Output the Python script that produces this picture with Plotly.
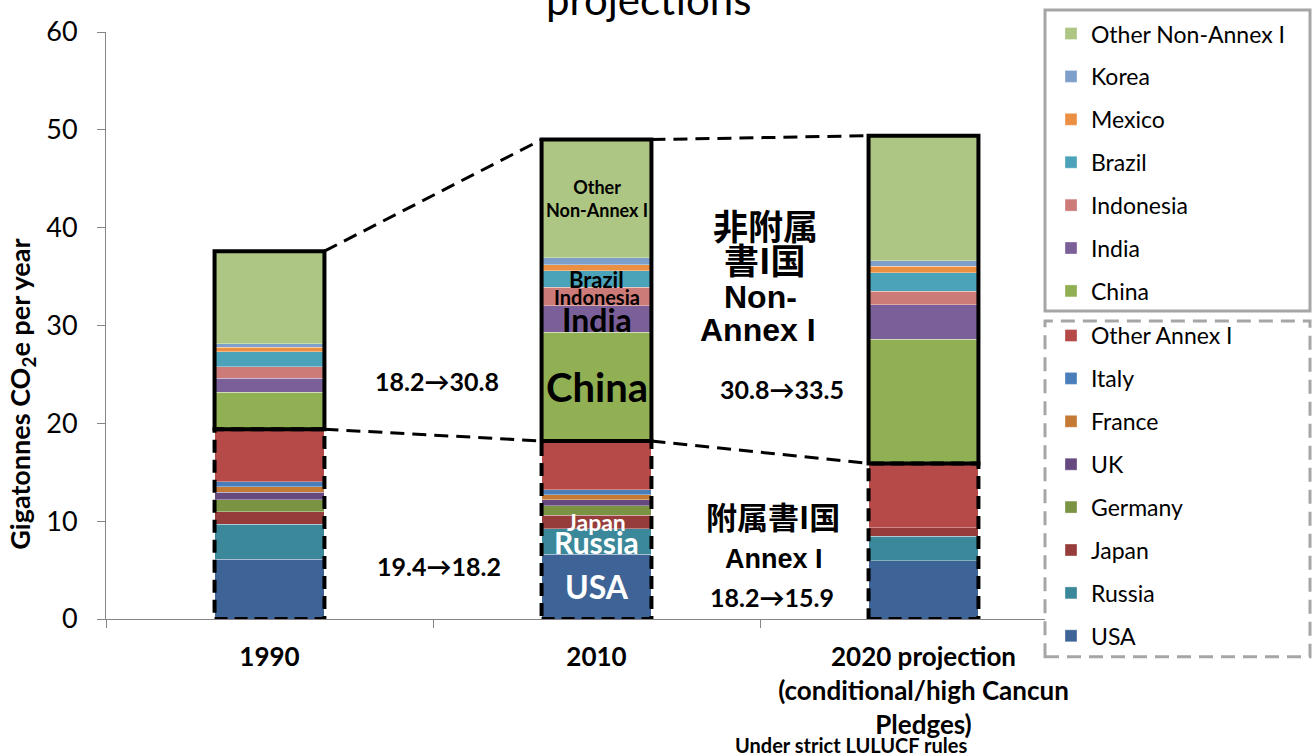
import plotly.graph_objects as go

# ---- data (Gt CO2e per year) ----
periods = ["1990", "2010", "2020 projection<br>(conditional/high Cancun<br>Pledges)"]

# Annex I, stacked from the bottom
usa = [6.1, 6.6, 5.95]
russia = [3.6, 2.6, 2.5]
japan = [1.25, 1.4, 0.9]
germany = [1.25, 1.0, 0.0]
uk = [0.75, 0.6, 0.0]
france = [0.55, 0.5, 0.0]
italy = [0.55, 0.5, 0.0]
other_annex = [5.35, 5.0, 6.55]

# Non-Annex I, stacked on top
china = [3.8, 11.1, 12.7]
india = [1.4, 2.7, 3.5]
indonesia = [1.2, 1.9, 1.4]
brazil = [1.5, 1.7, 1.9]
mexico = [0.5, 0.6, 0.65]
korea = [0.35, 0.7, 0.55]
other_non_annex = [9.45, 12.1, 12.8]

annex_series = [
    ("USA", usa, "#3E6497"),
    ("Russia", russia, "#3A8899"),
    ("Japan", japan, "#963D3B"),
    ("Germany", germany, "#7B9443"),
    ("UK", uk, "#65497F"),
    ("France", france, "#C47A35"),
    ("Italy", italy, "#4A7EBB"),
    ("Other Annex I", other_annex, "#B54A48"),
]
non_annex_series = [
    ("China", china, "#91AF53"),
    ("India", india, "#7A5F98"),
    ("Indonesia", indonesia, "#CC7B79"),
    ("Brazil", brazil, "#4BA3BA"),
    ("Mexico", mexico, "#EB8F43"),
    ("Korea", korea, "#7F9FCB"),
    ("Other Non-Annex I", other_non_annex, "#AEC683"),
]

FONT = "Lato"
ARIAL = "Liberation Sans"
JP_FONT = "Noto Sans CJK JP"
BAR_W = 0.336

# pixel helpers for layout furniture (plot area 106..1045 x 30..619)
PL, PR, PT, PB = 106, 1045, 30, 619


def px_x(px):
    return (px - PL) / (PR - PL)


def px_y(py):
    return (PB - py) / (PB - PT)


fig = go.Figure()

rank = 1000
for group, legend_id in ((annex_series, "legend2"), (non_annex_series, "legend")):
    for name, vals, col in group:
        fig.add_trace(go.Bar(
            x=periods, y=vals, name=name, marker_color=col,
            marker_line=dict(color="rgba(255,255,255,0.35)",
                             width=[1 if v > 0 else 0 for v in vals]),
            legend=legend_id, legendgroup=name, legendrank=rank,
        ))
        rank -= 1

n = len(periods)
annex_tot = [round(sum(s[1][i] for s in annex_series), 1) for i in range(n)]
non_annex_tot = [round(sum(s[1][i] for s in non_annex_series), 1) for i in range(n)]
grand_tot = [round(annex_tot[i] + non_annex_tot[i], 1) for i in range(n)]

shapes = []
half = BAR_W / 2
for i in range(n):
    # dashed outline around the Annex I block
    shapes.append(dict(type="rect", xref="x", yref="y", x0=i - half, x1=i + half,
                       y0=0, y1=annex_tot[i],
                       line=dict(color="black", width=4, dash="13px,7px")))
    # solid outline around the Non-Annex I block
    shapes.append(dict(type="rect", xref="x", yref="y", x0=i - half, x1=i + half,
                       y0=annex_tot[i], y1=grand_tot[i],
                       line=dict(color="black", width=4)))
# dashed connectors between consecutive bars
for i in range(n - 1):
    for a, b in ((grand_tot[i], grand_tot[i + 1]), (annex_tot[i], annex_tot[i + 1])):
        shapes.append(dict(type="line", xref="x", yref="y",
                           x0=i + half, x1=i + 1 - half, y0=a, y1=b,
                           line=dict(color="black", width=3, dash="14px,8px")))

# legend frames
shapes.append(dict(type="rect", xref="paper", yref="paper",
                   x0=px_x(1045), x1=px_x(1310), y0=px_y(310), y1=px_y(8),
                   line=dict(color="#A6A6A6", width=3), fillcolor="rgba(0,0,0,0)"))
shapes.append(dict(type="rect", xref="paper", yref="paper",
                   x0=px_x(1045), x1=px_x(1310), y0=px_y(657), y1=px_y(320),
                   line=dict(color="#A6A6A6", width=3, dash="14px,8px"),
                   fillcolor="rgba(0,0,0,0)"))

annotations = []


def seg_mid(series, key, i, base=0.0):
    acc = base
    for nm, vals, _ in series:
        if nm == key:
            return acc + vals[i] / 2
        acc += vals[i]


def bar_label(i, y, text, size, color="black"):
    annotations.append(dict(x=i, y=y, xref="x", yref="y", text=text, showarrow=False,
                            font=dict(family=FONT, size=size, color=color),
                            xanchor="center", yanchor="middle"))


def free_text(px, py, text, size, font=FONT, color="black", angle=0):
    annotations.append(dict(x=px_x(px), y=px_y(py), xref="paper", yref="paper",
                            text=text, showarrow=False, textangle=angle,
                            font=dict(family=font, size=size, color=color),
                            xanchor="center", yanchor="middle"))


# labels inside the 2010 bar
i = 1
bar_label(i, seg_mid(non_annex_series, "Other Non-Annex I", i, annex_tot[i]),
          "<b>Other<br>Non-Annex I</b>", 18)
bar_label(i, seg_mid(non_annex_series, "Brazil", i, annex_tot[i]), "<b>Brazil</b>", 22)
bar_label(i, seg_mid(non_annex_series, "Indonesia", i, annex_tot[i]), "<b>Indonesia</b>", 20)
bar_label(i, seg_mid(non_annex_series, "India", i, annex_tot[i]), "<b>India</b>", 32)
bar_label(i, seg_mid(non_annex_series, "China", i, annex_tot[i]), "<b>China</b>", 40)
bar_label(i, seg_mid(annex_series, "Japan", i), "<b>Japan</b>", 23, "white")
bar_label(i, seg_mid(annex_series, "Russia", i), "<b>Russia</b>", 30, "white")
bar_label(i, seg_mid(annex_series, "USA", i), "<b>USA</b>", 32, "white")

# change annotations between bars
free_text(437, 380, f"<b>{non_annex_tot[0]:.1f}→{non_annex_tot[1]:.1f}</b>", 25)
free_text(439, 566, f"<b>{annex_tot[0]:.1f}→{annex_tot[1]:.1f}</b>", 25)
free_text(782, 388, f"<b>{non_annex_tot[1]:.1f}→{non_annex_tot[2]:.1f}</b>", 25)
free_text(772, 597, f"<b>{annex_tot[1]:.1f}→{annex_tot[2]:.1f}</b>", 25)

# group labels
free_text(765, 223, "<b>非附属</b>", 35, JP_FONT)
free_text(765, 257, "<b>書I国</b>", 35, JP_FONT)
free_text(760, 296, "<b>Non-</b>", 32, ARIAL)
free_text(758, 329, "<b>Annex I</b>", 32, ARIAL)
free_text(773, 515, "<b>附属書I国</b>", 31, JP_FONT)
free_text(774, 559, "<b>Annex I</b>", 27, ARIAL)

# y-axis title
free_text(22, 394, "<b>Gigatonnes CO<sub>2</sub>e per year</b>", 27, angle=-90)
# title (last line)
free_text(648, -3, "projections", 42)
# footnote
free_text(851, 745, "<b>Under strict LULUCF rules</b>", 20)

legend_common = dict(
    xanchor="left", yanchor="top", bgcolor="rgba(255,255,255,0)", borderwidth=0,
    font=dict(family=FONT, size=23, color="black"),
    traceorder="grouped", tracegroupgap=10,
)

fig.update_layout(
    width=1316, height=756,
    margin=dict(l=PL, r=1316 - PR, t=PT, b=756 - PB),
    paper_bgcolor="white", plot_bgcolor="white",
    barmode="stack", bargap=1 - BAR_W,
    showlegend=True,
    legend=dict(x=px_x(1051), y=px_y(10), **legend_common),
    legend2=dict(x=px_x(1051), y=px_y(313), **legend_common),
    xaxis=dict(
        type="category", range=[-0.5, -0.5 + (PR - PL) / 327.0],
        showline=True, linecolor="#868686", linewidth=1,
        ticks="outside", tickson="boundaries", ticklen=8, tickcolor="#868686",
        tickfont=dict(family=FONT, size=26, color="black"),
        ticklabelstandoff=15,
        showgrid=False, zeroline=False,
    ),
    yaxis=dict(
        range=[0, 60], dtick=10,
        showline=True, linecolor="#868686", linewidth=1,
        ticks="outside", ticklen=8, tickcolor="#868686",
        tickfont=dict(family=FONT, size=27, color="black"),
        ticklabelstandoff=14,
        showgrid=False, zeroline=False,
    ),
    shapes=shapes,
    annotations=annotations,
)

# bold category labels
fig.update_xaxes(ticktext=[f"<b>{p}</b>" for p in periods], tickvals=periods)

fig.write_html("out.html")
